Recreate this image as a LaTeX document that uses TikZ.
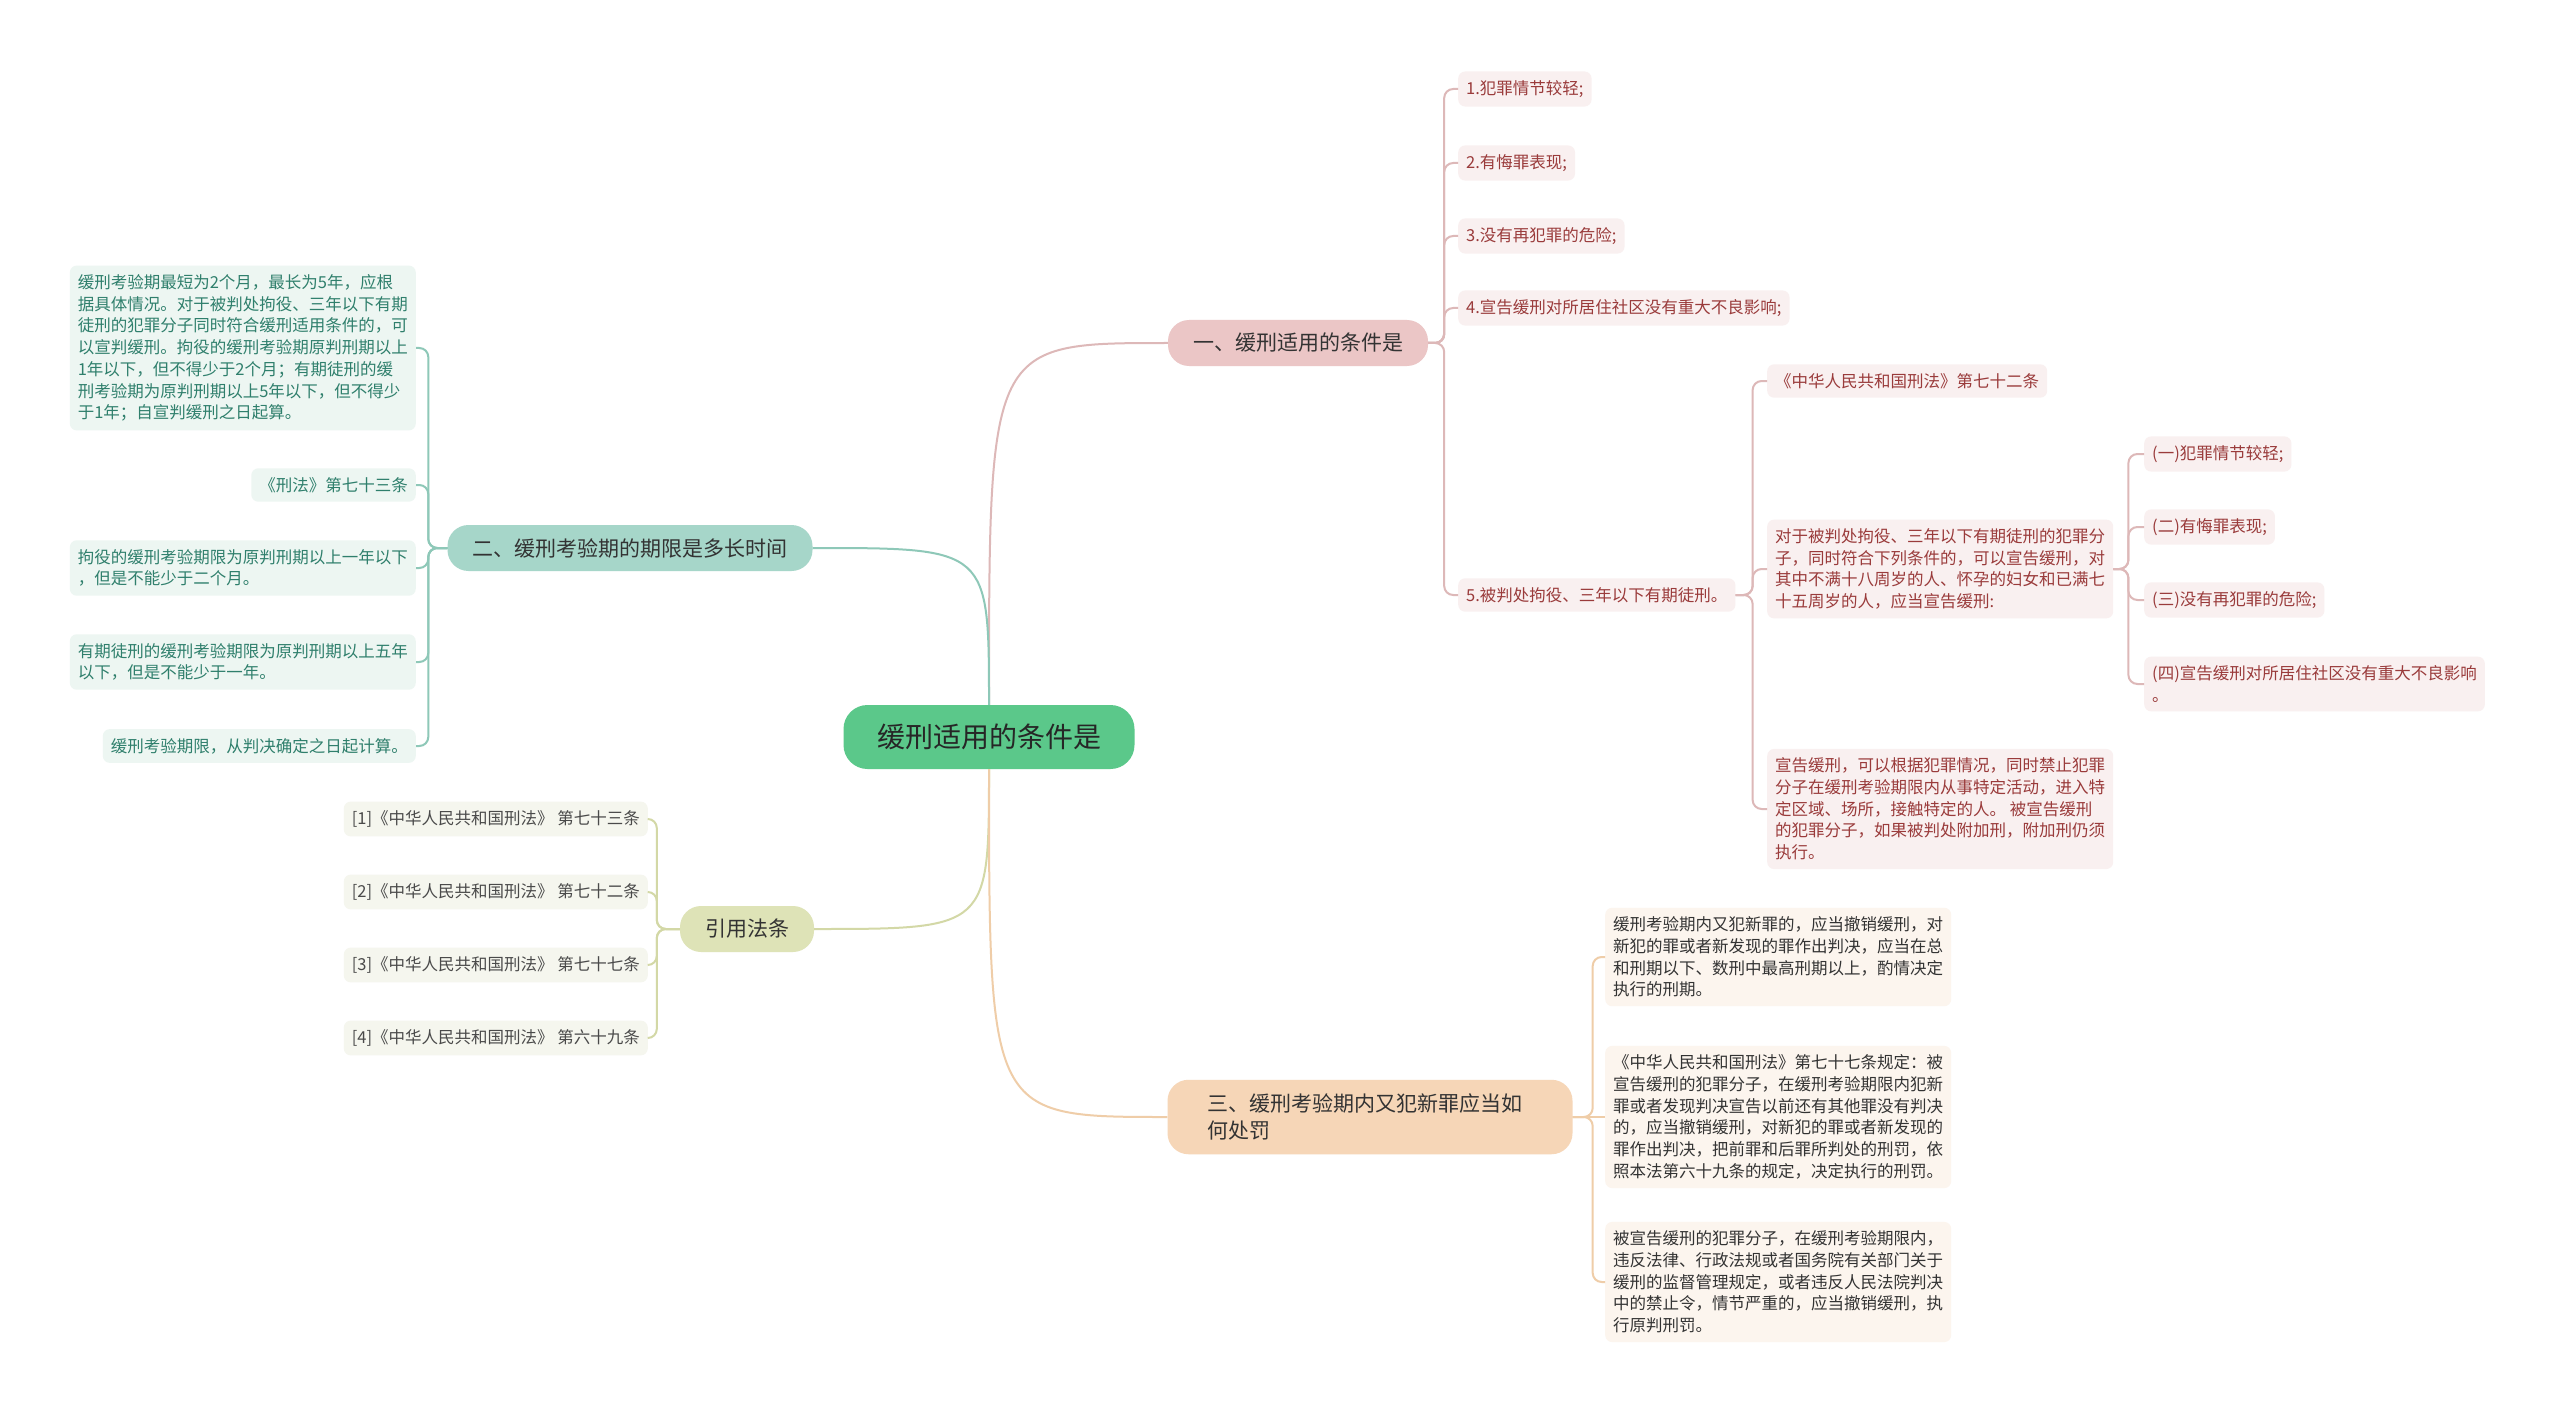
\documentclass[tikz,border=0pt]{standalone}
\usepackage{fontspec}
\setmainfont{Noto Sans CJK SC}
\usetikzlibrary{positioning}

\definecolor{rootfill}{HTML}{5BC88A}
\definecolor{condfill}{HTML}{EBC6C6}
\definecolor{condleaf}{HTML}{F9F0F0}
\definecolor{condtext}{HTML}{9A3B3B}
\definecolor{condline}{HTML}{DDB8B8}
\definecolor{termfill}{HTML}{A6D6C9}
\definecolor{termleaf}{HTML}{EDF6F2}
\definecolor{termtext}{HTML}{2F7F6C}
\definecolor{termline}{HTML}{8EC8B8}
\definecolor{lawfill}{HTML}{DEE3B7}
\definecolor{lawleaf}{HTML}{F5F6EE}
\definecolor{lawtext}{HTML}{4A4A4A}
\definecolor{lawline}{HTML}{D3D8A6}
\definecolor{punfill}{HTML}{F6D6B7}
\definecolor{punleaf}{HTML}{FCF5EE}
\definecolor{puntext}{HTML}{333333}
\definecolor{punline}{HTML}{EFCDA8}

\tikzset{
  root/.style={rectangle, rounded corners=24pt, fill=rootfill, text=black!85,
    font=\fontsize{28}{32}\selectfont, minimum width=291pt, minimum height=64pt},
  branch/.style={rectangle, rounded corners=21pt, text=black!80,
    font=\fontsize{21}{27}\selectfont, minimum height=46pt, inner xsep=25pt},
  leaf/.style={rectangle, rounded corners=7pt, align=left,
    font=\fontsize{16.5}{21.7}\selectfont, inner xsep=8pt, inner ysep=9pt},
  link/.style={line width=2pt},
  twig/.style={line width=2pt, rounded corners=9pt}
}

\begin{document}
\begin{tikzpicture}[x=1pt, y=-1pt]
\fill[white] (0,0) rectangle (2560,1415);

% Centre
\node[root] (root) at (989,737) {缓刑适用的条件是};

% Main branches
\node[branch, fill=condfill] (cond) at (1298,343) {一、缓刑适用的条件是};
\node[branch, fill=termfill] (term) at (630,548) {二、缓刑考验期的期限是多长时间};
\node[branch, fill=lawfill] (laws) at (747,929) {引用法条};
\node[branch, fill=punfill, align=left, text width=325pt, inner xsep=40pt, inner ysep=14pt] (punish) at (1370,1117) {三、缓刑考验期内又犯新罪应当如\\何处罚};

% Conditions
\node[leaf, fill=condleaf, text=condtext, anchor=west] (c1) at (1458,89) {1.犯罪情节较轻;};
\node[leaf, fill=condleaf, text=condtext, anchor=west] (c2) at (1458,163) {2.有悔罪表现;};
\node[leaf, fill=condleaf, text=condtext, anchor=west] (c3) at (1458,236) {3.没有再犯罪的危险;};
\node[leaf, fill=condleaf, text=condtext, anchor=west] (c4) at (1458,308) {4.宣告缓刑对所居住社区没有重大不良影响;};
\node[leaf, fill=condleaf, text=condtext, anchor=west] (c5) at (1458,595) {5.被判处拘役、三年以下有期徒刑。};

\node[leaf, fill=condleaf, text=condtext, anchor=west] (art72) at (1767,381) {《中华人民共和国刑法》第七十二条};
\node[leaf, fill=condleaf, text=condtext, anchor=west] (rule72) at (1767,569) {对于被判处拘役、三年以下有期徒刑的犯罪分\\子，同时符合下列条件的，可以宣告缓刑，对\\其中不满十八周岁的人、怀孕的妇女和已满七\\十五周岁的人，应当宣告缓刑:};
\node[leaf, fill=condleaf, text=condtext, anchor=west] (ban72) at (1767,809) {宣告缓刑，可以根据犯罪情况，同时禁止犯罪\\分子在缓刑考验期限内从事特定活动，进入特\\定区域、场所，接触特定的人。 被宣告缓刑\\的犯罪分子，如果被判处附加刑，附加刑仍须\\执行。};

\node[leaf, fill=condleaf, text=condtext, anchor=west] (s1) at (2144,454) {(一)犯罪情节较轻;};
\node[leaf, fill=condleaf, text=condtext, anchor=west] (s2) at (2144,527) {(二)有悔罪表现;};
\node[leaf, fill=condleaf, text=condtext, anchor=west] (s3) at (2144,600) {(三)没有再犯罪的危险;};
\node[leaf, fill=condleaf, text=condtext, anchor=west] (s4) at (2144,684) {(四)宣告缓刑对所居住社区没有重大不良影响\\。};

% Probation term
\node[leaf, fill=termleaf, text=termtext, anchor=east] (t1) at (416,348) {缓刑考验期最短为2个月，最长为5年，应根\\据具体情况。对于被判处拘役、三年以下有期\\徒刑的犯罪分子同时符合缓刑适用条件的，可\\以宣判缓刑。拘役的缓刑考验期原判刑期以上\\1年以下，但不得少于2个月；有期徒刑的缓\\刑考验期为原判刑期以上5年以下，但不得少\\于1年；自宣判缓刑之日起算。};
\node[leaf, fill=termleaf, text=termtext, anchor=east] (t2) at (416,485) {《刑法》第七十三条};
\node[leaf, fill=termleaf, text=termtext, anchor=east] (t3) at (416,568) {拘役的缓刑考验期限为原判刑期以上一年以下\\，但是不能少于二个月。};
\node[leaf, fill=termleaf, text=termtext, anchor=east] (t4) at (416,662) {有期徒刑的缓刑考验期限为原判刑期以上五年\\以下，但是不能少于一年。};
\node[leaf, fill=termleaf, text=termtext, anchor=east] (t5) at (416,746) {缓刑考验期限，从判决确定之日起计算。};

% Cited articles
\node[leaf, fill=lawleaf, text=lawtext, anchor=east] (r1) at (648,819) {[1]《中华人民共和国刑法》 第七十三条};
\node[leaf, fill=lawleaf, text=lawtext, anchor=east] (r2) at (648,892) {[2]《中华人民共和国刑法》 第七十二条};
\node[leaf, fill=lawleaf, text=lawtext, anchor=east] (r3) at (648,965) {[3]《中华人民共和国刑法》 第七十七条};
\node[leaf, fill=lawleaf, text=lawtext, anchor=east] (r4) at (648,1038) {[4]《中华人民共和国刑法》 第六十九条};

% New crime during probation
\node[leaf, fill=punleaf, text=puntext, anchor=west] (q1) at (1605,957) {缓刑考验期内又犯新罪的，应当撤销缓刑，对\\新犯的罪或者新发现的罪作出判决，应当在总\\和刑期以下、数刑中最高刑期以上，酌情决定\\执行的刑期。};
\node[leaf, fill=punleaf, text=puntext, anchor=west] (q2) at (1605,1117) {《中华人民共和国刑法》第七十七条规定：被\\宣告缓刑的犯罪分子，在缓刑考验期限内犯新\\罪或者发现判决宣告以前还有其他罪没有判决\\的，应当撤销缓刑，对新犯的罪或者新发现的\\罪作出判决，把前罪和后罪所判处的刑罚，依\\照本法第六十九条的规定，决定执行的刑罚。};
\node[leaf, fill=punleaf, text=puntext, anchor=west] (q3) at (1605,1282) {被宣告缓刑的犯罪分子，在缓刑考验期限内，\\违反法律、行政法规或者国务院有关部门关于\\缓刑的监督管理规定，或者违反人民法院判决\\中的禁止令，情节严重的，应当撤销缓刑，执\\行原判刑罚。};

% Centre to branches
\draw[link, condline] (root.north) .. controls (root.north |- cond.west) .. (cond.west);
\draw[link, termline] (root.north) .. controls (root.north |- term.east) .. (term.east);
\draw[link, lawline] (root.south) .. controls (root.south |- laws.east) .. (laws.east);
\draw[link, punline] (root.south) .. controls (root.south |- punish.west) .. (punish.west);

% Branch to leaves
\draw[twig, condline] (cond.east) -- ++(16,0) |- (c1.west);
\draw[twig, condline] (cond.east) -- ++(16,0) |- (c2.west);
\draw[twig, condline] (cond.east) -- ++(16,0) |- (c3.west);
\draw[twig, condline] (cond.east) -- ++(16,0) |- (c4.west);
\draw[twig, condline] (cond.east) -- ++(16,0) |- (c5.west);
\draw[twig, condline] (c5.east) -- ++(17,0) |- (art72.west);
\draw[twig, condline] (c5.east) -- ++(17,0) |- (rule72.west);
\draw[twig, condline] (c5.east) -- ++(17,0) |- (ban72.west);
\draw[twig, condline] (rule72.east) -- ++(15,0) |- (s1.west);
\draw[twig, condline] (rule72.east) -- ++(15,0) |- (s2.west);
\draw[twig, condline] (rule72.east) -- ++(15,0) |- (s3.west);
\draw[twig, condline] (rule72.east) -- ++(15,0) |- (s4.west);

\draw[twig, termline] (term.west) -- ++(-19,0) |- (t1.east);
\draw[twig, termline] (term.west) -- ++(-19,0) |- (t2.east);
\draw[twig, termline] (term.west) -- ++(-19,0) |- (t3.east);
\draw[twig, termline] (term.west) -- ++(-19,0) |- (t4.east);
\draw[twig, termline] (term.west) -- ++(-19,0) |- (t5.east);

\draw[twig, lawline] (laws.west) -- ++(-23,0) |- (r1.east);
\draw[twig, lawline] (laws.west) -- ++(-23,0) |- (r2.east);
\draw[twig, lawline] (laws.west) -- ++(-23,0) |- (r3.east);
\draw[twig, lawline] (laws.west) -- ++(-23,0) |- (r4.east);

\draw[twig, punline] (punish.east) -- ++(20,0) |- (q1.west);
\draw[twig, punline] (punish.east) -- (q2.west);
\draw[twig, punline] (punish.east) -- ++(20,0) |- (q3.west);

\end{tikzpicture}
\end{document}
